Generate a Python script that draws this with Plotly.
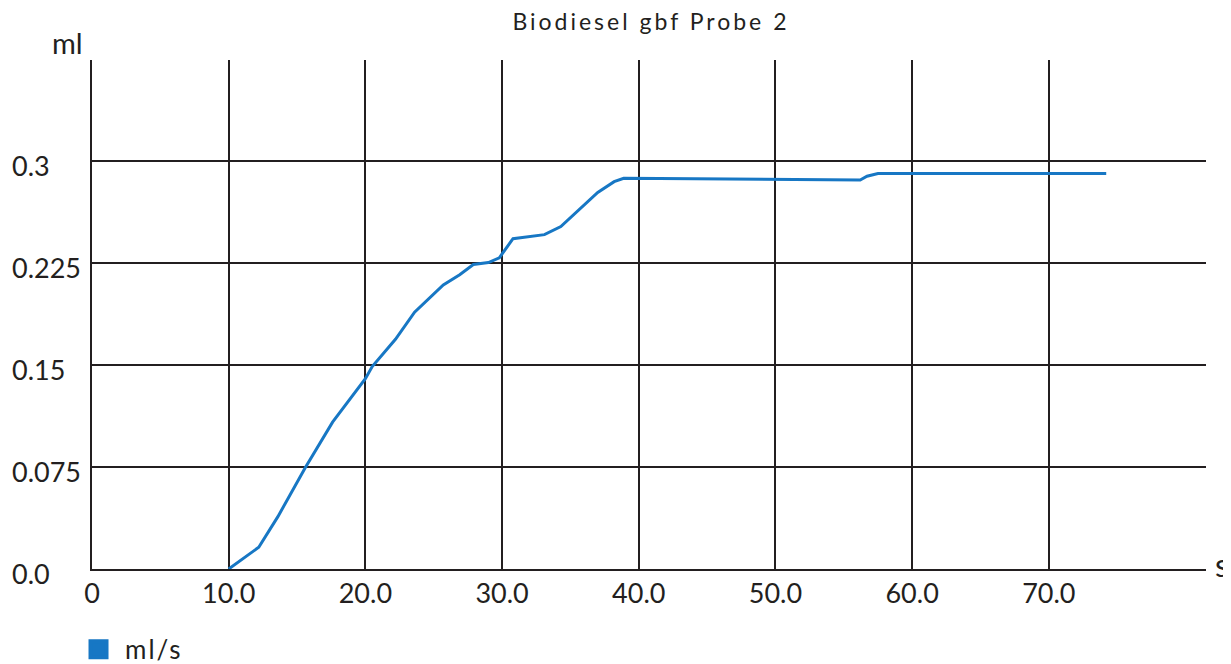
import plotly.graph_objects as go

title_text = "Biodiesel gbf Probe 2"
series_name = "ml/s"
y_unit = "ml"
x_unit = "s"
time_s = [10.0, 12.2, 13.6, 15.6, 17.6, 20.0, 20.5, 22.2, 23.6, 25.7, 26.9, 27.9, 29.0, 29.8,
          30.8, 33.1, 34.3, 37.0, 38.2, 38.9, 56.2, 56.7, 57.5, 74.2]
volume_ml = [0.0, 0.016, 0.0385, 0.0745, 0.108, 0.140, 0.149, 0.169, 0.189, 0.209, 0.2165, 0.224,
             0.2255, 0.229, 0.243, 0.246, 0.252, 0.277, 0.285, 0.2875, 0.2862, 0.289, 0.291, 0.291]
x_ticks = [0, 10, 20, 30, 40, 50, 60, 70]
x_tick_labels = ["0", "10.0", "20.0", "30.0", "40.0", "50.0", "60.0", "70.0"]
y_ticks = [0.0, 0.075, 0.15, 0.225, 0.3]
y_tick_labels = ["0.0", "0.075", "0.15", "0.225", "0.3"]

FONT = "Lato"
INK = "#231f20"
BLUE = "#1777c4"


def spaced(t, px):
    return f'<span style="letter-spacing:{px}px">{t}</span>'


fig = go.Figure()
fig.add_trace(go.Scatter(x=time_s, y=volume_ml, mode="lines", line=dict(color=BLUE, width=3),
                         showlegend=False, hoverinfo="x+y"))
fig.add_trace(go.Scatter(x=[None], y=[None], mode="markers", name=spaced(series_name, 2),
                         marker=dict(symbol="square", size=16, color=BLUE,
                                     line=dict(color=BLUE, width=4)),
                         showlegend=True))

for v, t in zip(y_ticks, y_tick_labels):
    fig.add_annotation(x=-0.0736, xref="paper", y=v, yref="y", text=t, showarrow=False,
                       xanchor="left", yanchor="middle", yshift=-4,
                       font=dict(family=FONT, size=27, color=INK))

fig.add_annotation(x=-0.0224, xref="paper", y=1.0, yref="paper", text=y_unit,
                   showarrow=False, xanchor="center", yanchor="middle", yshift=18,
                   font=dict(family=FONT, size=29, color=INK))
fig.add_annotation(x=1.0, xref="paper", y=0, yref="y", text=x_unit, showarrow=False,
                   xanchor="left", yanchor="middle", xshift=7, yshift=5,
                   font=dict(family=FONT, size=32, color=INK))

fig.update_layout(
    width=1231, height=664,
    margin=dict(l=84, r=33, t=52, b=103, autoexpand=False),
    paper_bgcolor="white", plot_bgcolor="white",
    title=dict(text=spaced(title_text, 3), xref="container", x=0.5223, xanchor="center",
               yref="container", y=0.979, yanchor="middle",
               font=dict(family=FONT, size=23, color=INK)),
    font=dict(family=FONT, size=24, color=INK),
    showlegend=True,
    legend=dict(xref="container", x=0.052, xanchor="left", yref="container", y=0.034,
                yanchor="middle", orientation="h", bgcolor="rgba(0,0,0,0)",
                font=dict(family=FONT, size=26, color=INK), itemwidth=43),
    xaxis=dict(range=[0, 81.5], tickvals=x_ticks, ticktext=x_tick_labels,
               showgrid=True, gridcolor=INK, gridwidth=2, zeroline=False,
               showline=True, linecolor=INK, linewidth=2, ticks="", ticklabelstandoff=0,
               tickfont=dict(family=FONT, size=27, color=INK)),
    yaxis=dict(range=[0, 0.3745], tickvals=y_ticks, showticklabels=False,
               showgrid=True, gridcolor=INK, gridwidth=2, zeroline=False,
               showline=True, linecolor=INK, linewidth=2, ticks=""),
)

fig.write_html("out.html")
